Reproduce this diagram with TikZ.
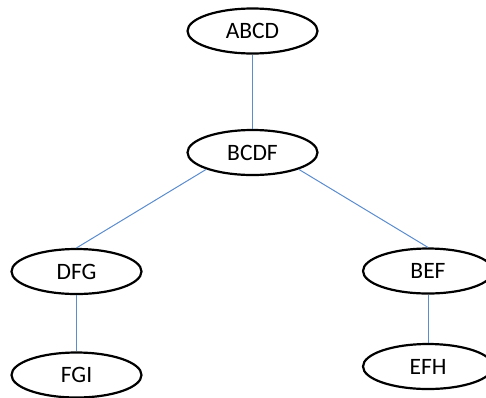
\documentclass[tikz,border=0pt]{standalone}
\usepackage{fontspec}
\setmainfont{Carlito}
\usetikzlibrary{shapes.geometric}
\definecolor{linkblue}{RGB}{91,140,205}
\begin{document}
\begin{tikzpicture}[x=1pt,y=-1pt,
  oval/.style={ellipse,draw=black,line width=2.2pt,minimum width=130pt,minimum height=45pt,inner sep=0pt,font=\fontsize{23.5}{25}\selectfont},
  link/.style={draw=linkblue,line width=1pt}]
\path[use as bounding box] (0,0) rectangle (486,397);
\begin{scope}
\clip (0,0) rectangle (486,397);
\node[oval] (abcd) at (252.5,31) {ABCD};
\node[oval] (bcdf) at (252.5,152.5) {BCDF};
\node[oval] (dfg) at (76.5,271.5) {DFG};
\node[oval] (fgi) at (76.5,375) {FGI};
\node[oval] (bef) at (428,271) {BEF};
\node[oval] (efh) at (428,366.5) {EFH};
\draw[link] (abcd.south) -- (bcdf.north);
\draw[link] (bcdf.-160) -- (dfg.north);
\draw[link] (bcdf.-20) -- (bef.north);
\draw[link] (dfg.south) -- (fgi.north);
\draw[link] (bef.south) -- (efh.north);
\end{scope}
\end{tikzpicture}
\end{document}
